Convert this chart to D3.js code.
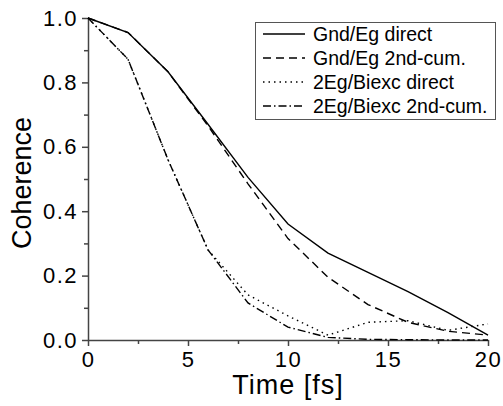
<!DOCTYPE html>
<meta charset="utf-8">
<style>
body { margin: 0; background: #fff; }
svg { display: block; font-family: 'Liberation Sans', Arial, sans-serif; }
.axis path, .axis line { stroke: #444; stroke-width: 1.5px; }
.axis text { font-size: 22px; fill: #000; }
.series { fill: none; stroke: #000; stroke-width: 1.4px; }
</style>
<body>
<script src="https://cdnjs.cloudflare.com/ajax/libs/d3/7.8.5/d3.min.js"></script>
<script>

var times = [0, 2, 4, 6, 8, 10, 12, 14, 16, 18, 20];
var gndDirect = [1.0, 0.955, 0.833, 0.67, 0.505, 0.36, 0.27, 0.21, 0.15, 0.085, 0.015];
var gndCum    = [1.0, 0.955, 0.833, 0.665, 0.485, 0.315, 0.195, 0.11, 0.055, 0.027, 0.015];
var biexDirect = [1.0, 0.872, 0.56, 0.28, 0.14, 0.075, 0.015, 0.055, 0.06, 0.03, 0.05];
var biexCum    = [1.0, 0.872, 0.56, 0.28, 0.115, 0.04, 0.008, 0.002, 0.001, 0.0, 0.0];
var seriesNames = ["Gnd/Eg direct", "Gnd/Eg 2nd-cum.", "2Eg/Biexc direct", "2Eg/Biexc 2nd-cum."];
var xTicks = [0, 5, 10, 15, 20];
var yTicks = [0, 0.2, 0.4, 0.6, 0.8, 1.0];

var dashes = ["none", "8,5", "1.5,4", "8,3,1.5,3"];
var allSeries = [gndDirect, gndCum, biexDirect, biexCum];

var width = 503, height = 406;
var svg = d3.select("body").append("svg")
    .attr("width", width)
    .attr("height", height);

var x = d3.scaleLinear().domain([0, 20]).range([88, 488]);
var y = d3.scaleLinear().domain([0, 1]).range([340, 18]);

// minor ticks first
svg.append("g")
    .attr("class", "axis")
    .attr("transform", "translate(0,340)")
    .call(d3.axisBottom(x).tickValues([2.5, 7.5, 12.5, 17.5]).tickSize(4).tickFormat(""))
    .select(".domain").remove();
svg.append("g")
    .attr("class", "axis")
    .attr("transform", "translate(88,0)")
    .call(d3.axisLeft(y).tickValues([0.1, 0.3, 0.5, 0.7, 0.9]).tickSize(4).tickFormat(""))
    .select(".domain").remove();

var xAxis = svg.append("g")
    .attr("class", "axis")
    .attr("transform", "translate(0,340)")
    .call(d3.axisBottom(x).tickValues(xTicks).tickSize(6).tickSizeOuter(0).tickPadding(5));
xAxis.selectAll("text").attr("letter-spacing", "1.5px");

var yAxis = svg.append("g")
    .attr("class", "axis")
    .attr("transform", "translate(88,0)")
    .call(d3.axisLeft(y).tickValues(yTicks).tickSize(6).tickSizeOuter(0).tickPadding(4)
        .tickFormat(d3.format(".1f")));
yAxis.selectAll("text").attr("letter-spacing", "1.5px");

var line = d3.line()
    .x(function(d, i) { return x(times[i]); })
    .y(function(d) { return y(d); });

svg.selectAll("path.series")
    .data(allSeries)
    .enter().append("path")
    .attr("class", "series")
    .attr("d", line)
    .attr("stroke-dasharray", function(d, i) { return dashes[i]; });

// axis titles
svg.append("text")
    .attr("x", 288)
    .attr("y", 394)
    .attr("text-anchor", "middle")
    .attr("letter-spacing", "1px")
    .style("font-size", "27px")
    .text("Time [fs]");

svg.append("text")
    .attr("transform", "translate(31,183) rotate(-90)")
    .attr("text-anchor", "middle")
    .style("font-size", "27px")
    .text("Coherence");

// legend
var legend = svg.append("g");
legend.append("rect")
    .attr("x", 255.5).attr("y", 22.5)
    .attr("width", 240).attr("height", 97)
    .attr("fill", "#fff")
    .attr("stroke", "#555")
    .attr("stroke-width", 1);

var items = legend.selectAll("g.item")
    .data(seriesNames)
    .enter().append("g")
    .attr("class", "item")
    .attr("transform", function(d, i) { return "translate(0," + (34 + i * 24) + ")"; });

items.append("line")
    .attr("x1", 263).attr("x2", 305)
    .attr("y1", 0).attr("y2", 0)
    .attr("stroke", "#000")
    .attr("stroke-width", 1.4)
    .attr("stroke-dasharray", function(d, i) { return dashes[i]; });

items.append("text")
    .attr("x", 313)
    .attr("y", 7)
    .style("font-size", "19.5px")
    .text(function(d) { return d; });

</script>
</body>
